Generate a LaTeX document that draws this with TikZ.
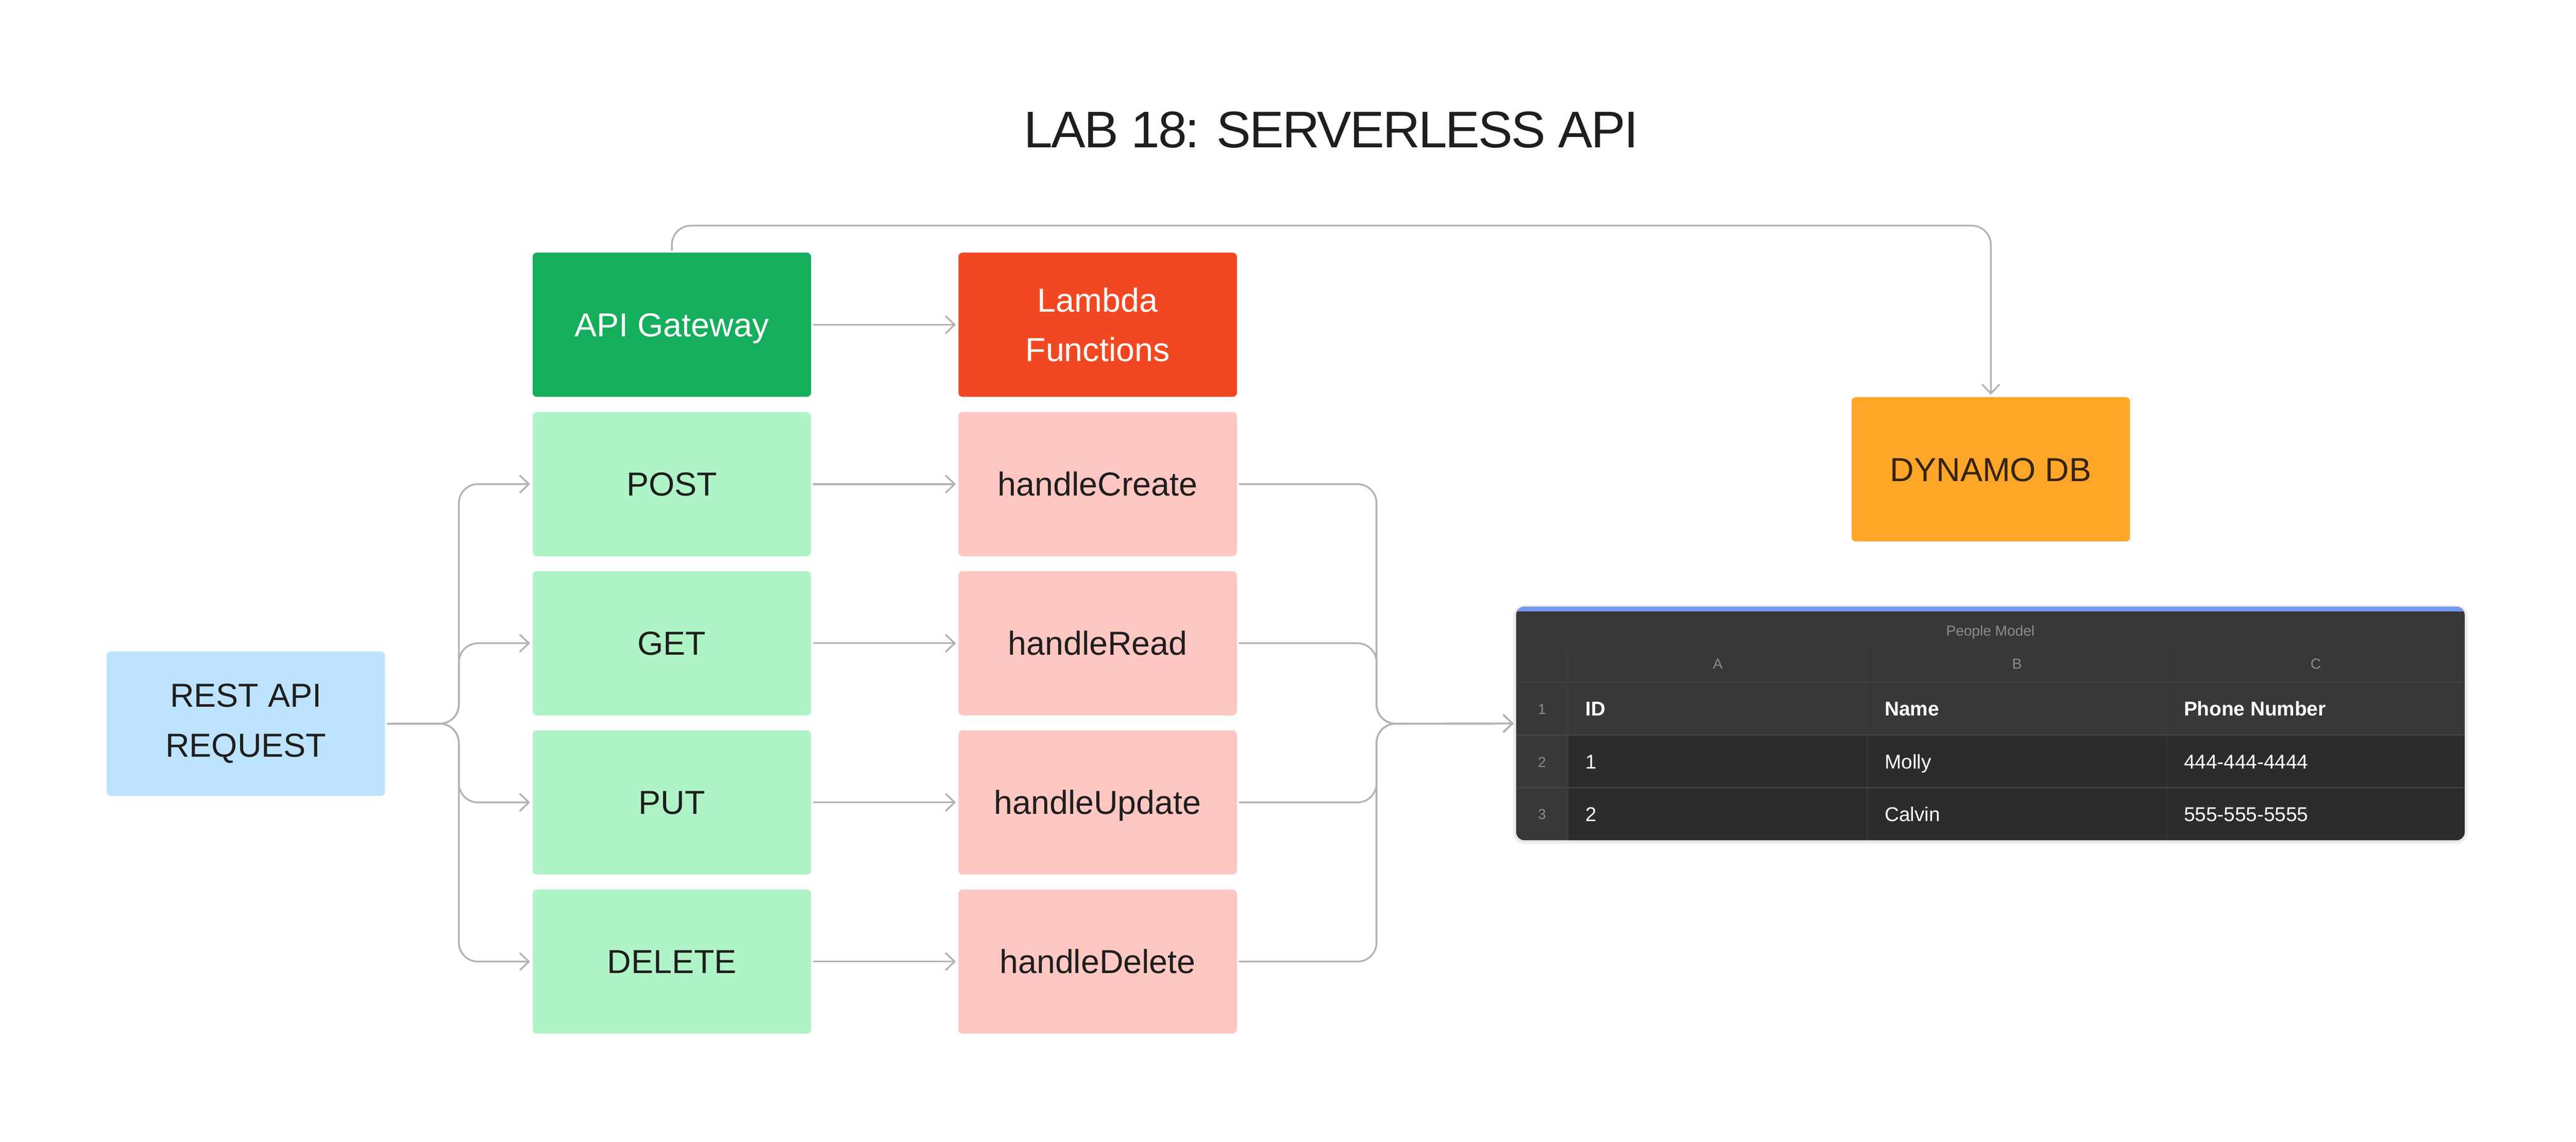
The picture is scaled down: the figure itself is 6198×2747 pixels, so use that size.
\documentclass[tikz,border=0pt]{standalone}
\usepackage{fontspec}
\setmainfont{Liberation Sans}
\usetikzlibrary{arrows.meta}
\definecolor{ink}{HTML}{1E1E1E}
\definecolor{connc}{HTML}{B3B3B3}
\definecolor{gwgreen}{HTML}{14AE5C}
\definecolor{lamred}{HTML}{F24822}
\definecolor{lgreen}{HTML}{AFF4C6}
\definecolor{lred}{HTML}{FFC7C2}
\definecolor{lblue}{HTML}{BDE3FF}
\definecolor{dynorange}{HTML}{FFA629}
\definecolor{dyntext}{HTML}{33240C}
\definecolor{tblue}{HTML}{7399EF}
\definecolor{tbg}{HTML}{383838}
\definecolor{tdark}{HTML}{2C2C2C}
\definecolor{tgrid}{HTML}{474747}
\definecolor{tvgrid}{HTML}{404040}
\definecolor{tgray}{HTML}{8C8C8C}
\begin{document}
\begin{tikzpicture}[x=0.25pt,y=-0.25pt,
  box/.style={rectangle, rounded corners=2.5pt, minimum width=167.5pt, minimum height=86.75pt,
    inner sep=0pt, outer sep=0pt, font=\fontsize{20}{30}\selectfont, align=center, text=ink},
  oneline/.style={text height=14.3pt, text depth=0pt},
  conn/.style={draw=connc, line width=1.05pt, line cap=round, rounded corners=11.5pt,
    -{Straight Barb[length=5.5pt,width=10.5pt]}, shorten <=1.5pt, shorten >=1.5pt},
  small/.style={inner sep=0pt, text=tgray, font=\fontsize{8.7}{10}\selectfont},
  cell/.style={inner sep=0pt, text=white, font=\fontsize{12}{14}\selectfont, anchor=base west},
  hcell/.style={cell, font=\fontsize{12}{14}\selectfont\bfseries}
]
\useasboundingbox (0,0) rectangle (6198,2747);

% title
\node[inner sep=0pt, anchor=base, text=ink, font=\fontsize{31}{36}\selectfont\addfontfeatures{LetterSpace=-3}] (title) at (3203,355) {LAB 18: SERVERLESS API};

% boxes
\node[box, oneline, fill=gwgreen, text=white] (api) at (1616.5,781.5) {API Gateway};
\node[box, fill=lamred, text=white] (lam) at (2641,781.5) {Lambda\\Functions};

\node[box, oneline, fill=lgreen] (post) at (1616.5,1165) {POST};
\node[box, oneline, fill=lgreen] (get)  at (1616.5,1548) {GET};
\node[box, oneline, fill=lgreen] (put)  at (1616.5,1931) {PUT};
\node[box, oneline, fill=lgreen] (del)  at (1616.5,2314) {DELETE};

\node[box, oneline, fill=lred] (hc) at (2641,1165) {handleCreate};
\node[box, oneline, fill=lred] (hr) at (2641,1548) {handleRead};
\node[box, oneline, fill=lred] (hu) at (2641,1931) {handleUpdate};
\node[box, oneline, fill=lred] (hd) at (2641,2314) {handleDelete};

\node[box, fill=lblue] (rest) at (591.5,1741.5) {REST API\\REQUEST};
\node[box, oneline, fill=dynorange, text=dyntext] (dyn) at (4790,1129.5) {DYNAMO DB};

% table
\fill[black, opacity=0.05, rounded corners=7pt] (3640,1456) rectangle (5938,2032);
\fill[black, opacity=0.05, rounded corners=6pt] (3644,1458) rectangle (5934,2027);
\node[fill=tbg, rounded corners=5pt, minimum width=570.5pt, minimum height=140.5pt, inner sep=0pt, outer sep=0pt] (tbl) at (4789,1741) {};
\begin{scope}
  \clip[rounded corners=5pt] (tbl.north west) rectangle (tbl.south east);
  \fill[tblue] (3640,1450) rectangle (5940,1472);
  \fill[tdark] (3773,1769) rectangle (5940,2030);
\end{scope}
\foreach \yy in {1642,1769,1895}
  \draw[tgrid, line width=0.5pt] (3648,\yy) -- (5930,\yy);
\foreach \xx in {3773,4493,5213}
  \draw[tvgrid, line width=0.3pt] (\xx,1557) -- (\xx,2022);

\node[small, anchor=base] (tname) at (4789,1530) {People Model};
\node[small, anchor=base] (ca) at (4133,1609) {A};
\node[small, anchor=base] (cb) at (4853,1609) {B};
\node[small, anchor=base] (cc) at (5572,1609) {C};
\node[small, anchor=base] (r1) at (3710,1719) {1};
\node[small, anchor=base] (r2) at (3710,1846) {2};
\node[small, anchor=base] (r3) at (3710,1972) {3};

\node[hcell] (h1) at (3814,1723) {ID};
\node[hcell] (h2) at (4534,1723) {Name};
\node[hcell] (h3) at (5254,1723) {Phone Number};
\node[cell] (d11) at (3814,1850) {1};
\node[cell] (d12) at (4534,1850) {Molly};
\node[cell] (d13) at (5254,1850) {444-444-4444};
\node[cell] (d21) at (3814,1977) {2};
\node[cell] (d22) at (4534,1977) {Calvin};
\node[cell] (d23) at (5254,1977) {555-555-5555};

% connectors
\coordinate (topy) at (0,543);
\coordinate (lj) at (1104,1741.5);
\coordinate (rj) at (3312,1741.5);

\draw[conn] (api.north) -- (api.north |- topy) -| (dyn.north);
\draw[conn] (api.east) -- (lam.west);
\draw[conn] (post.east) -- (hc.west);
\draw[conn] (get.east) -- (hr.west);
\draw[conn] (put.east) -- (hu.west);
\draw[conn] (del.east) -- (hd.west);

\draw[conn] (rest.east) -- (lj) |- (post.west);
\draw[conn] (rest.east) -- (lj) |- (get.west);
\draw[conn] (rest.east) -- (lj) |- (put.west);
\draw[conn] (rest.east) -- (lj) |- (del.west);

\draw[conn] (hc.east) -| (rj) -- (tbl.west);
\draw[conn] (hr.east) -| (rj) -- (tbl.west);
\draw[conn] (hu.east) -| (rj) -- (tbl.west);
\draw[conn] (hd.east) -| (rj) -- (tbl.west);
\end{tikzpicture}
\end{document}
